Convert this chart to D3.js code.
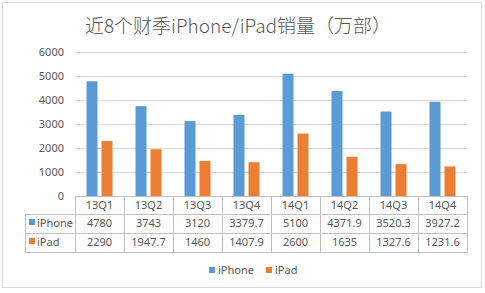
<!DOCTYPE html>
<html>
<head>
<meta charset="utf-8">
<script src="https://cdn.jsdelivr.net/npm/d3@7"></script>
<style>
  body { margin: 0; background: #fff; }
  text { font-family: "Noto Sans CJK SC", "Noto Sans", sans-serif; fill: #595959; }
</style>
</head>
<body>
<div id="chart"></div>
<script>
// chart data
const categories = ["13Q1", "13Q2", "13Q3", "13Q4", "14Q1", "14Q2", "14Q3", "14Q4"];
const iphone = [4780, 3743, 3120, 3379.7, 5100, 4371.9, 3520.3, 3927.2];
const ipad = [2290, 1947.7, 1460, 1407.9, 2600, 1635, 1327.6, 1231.6];
const seriesNames = ["iPhone", "iPad"];
const colors = ["#5B9BD5", "#ED7D31"];
const yTicks = [0, 1000, 2000, 3000, 4000, 5000, 6000];

const width = 485, height = 293;
const plotLeft = 75, plotRight = 467, plotTop = 52, plotBottom = 196;

const svg = d3.select("#chart").append("svg")
  .attr("width", width)
  .attr("height", height);

// chart box
svg.append("rect")
  .attr("x", 2.5).attr("y", 2.5)
  .attr("width", 479).attr("height", 285)
  .attr("fill", "#fff")
  .attr("stroke", "#d9d9d9");

// title
svg.append("text")
  .attr("x", 238).attr("y", 33)
  .attr("text-anchor", "middle")
  .style("font-size", "19px")
  .style("font-weight", "300")
  .text("近8个财季iPhone/iPad销量（万部）");

const x = d3.scaleBand().domain(categories).range([plotLeft, plotRight]);
const y = d3.scaleLinear().domain([0, 6000]).range([plotBottom, plotTop]);

// gridlines + y labels
const yAxis = svg.append("g")
  .attr("transform", "translate(" + plotLeft + ",0)")
  .call(d3.axisLeft(y).tickValues(yTicks).tickSize(-(plotRight - plotLeft)).tickFormat(d3.format("d")));
yAxis.select(".domain").remove();
yAxis.selectAll("line").attr("stroke", "#d9d9d9");
yAxis.selectAll("text")
  .attr("x", -11)
  .style("font-size", "11px")
  .style("font-family", "'Noto Sans', sans-serif")
  .attr("fill", "#595959");

// bars
const barW = 11, gap = 4;
const series = [iphone, ipad];
series.forEach(function(vals, s) {
  svg.append("g").selectAll("rect")
    .data(vals)
    .enter().append("rect")
    .attr("x", function(d, i) {
      return x(categories[i]) + x.bandwidth() / 2 - (barW * 2 + gap) / 2 + s * (barW + gap);
    })
    .attr("y", function(d) { return y(d); })
    .attr("width", barW)
    .attr("height", function(d) { return y(0) - y(d); })
    .attr("fill", colors[s]);
});

// data table
const rowTop = plotBottom, row1 = 214, row2 = 233, row3 = 252, tableLeft = 25;
const tbl = svg.append("g").attr("stroke", "#bfbfbf").attr("stroke-width", 1);
// horizontal lines
tbl.append("line").attr("x1", plotLeft).attr("x2", plotRight).attr("y1", rowTop + 0.5).attr("y2", rowTop + 0.5);
[row1, row2, row3].forEach(function(r) {
  tbl.append("line").attr("x1", tableLeft).attr("x2", plotRight).attr("y1", r + 0.5).attr("y2", r + 0.5);
});
// vertical lines
categories.concat(["end"]).forEach(function(c, i) {
  const xx = i < categories.length ? x(c) : plotRight;
  tbl.append("line").attr("x1", Math.round(xx) + 0.5).attr("x2", Math.round(xx) + 0.5)
    .attr("y1", rowTop).attr("y2", row3 + 0.5);
});
tbl.append("line").attr("x1", tableLeft + 0.5).attr("x2", tableLeft + 0.5).attr("y1", row1).attr("y2", row3 + 0.5);

const numFont = "'Noto Sans', sans-serif";
svg.append("g").selectAll("text")
  .data(categories)
  .enter().append("text")
  .attr("x", function(d) { return x(d) + x.bandwidth() / 2; })
  .attr("y", 209)
  .attr("text-anchor", "middle")
  .style("font-size", "11px")
  .style("font-family", numFont)
  .text(function(d) { return d; });

const rowYs = [227, 246];
series.forEach(function(vals, s) {
  svg.append("g").selectAll("text")
    .data(vals)
    .enter().append("text")
    .attr("x", function(d, i) { return x(categories[i]) + x.bandwidth() / 2; })
    .attr("y", rowYs[s])
    .attr("text-anchor", "middle")
    .style("font-size", "11px")
    .style("font-family", numFont)
    .text(function(d) { return d; });
  svg.append("rect")
    .attr("x", 29).attr("y", rowYs[s] - 8)
    .attr("width", 6).attr("height", 6)
    .attr("fill", colors[s]);
  svg.append("text")
    .attr("x", 37).attr("y", rowYs[s])
    .style("font-size", "11px")
    .style("font-family", numFont)
    .text(seriesNames[s]);
});

// legend
const legendX = [209, 266];
seriesNames.forEach(function(name, s) {
  svg.append("rect")
    .attr("x", legendX[s]).attr("y", 267)
    .attr("width", 6).attr("height", 6)
    .attr("fill", colors[s]);
  svg.append("text")
    .attr("x", legendX[s] + 9).attr("y", 274)
    .style("font-size", "11px")
    .style("font-family", numFont)
    .text(name);
});
</script>
</body>
</html>
